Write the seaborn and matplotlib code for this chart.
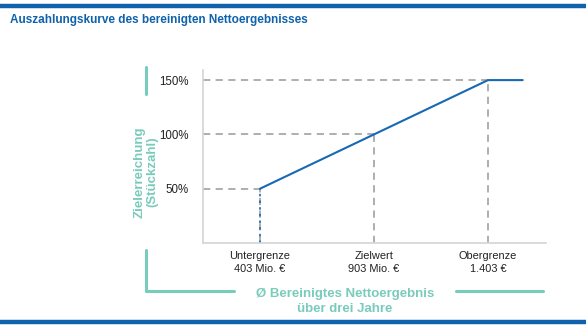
import matplotlib
matplotlib.use("Agg")
import matplotlib.pyplot as plt
from matplotlib.lines import Line2D
import seaborn as sns
import pandas as pd

sns.set_style("white")
plt.rcParams["font.family"] = ["Liberation Sans", "DejaVu Sans"]

# Payout curve: net result (Mio. €) vs. target achievement (%)
thresholds = [403, 903, 1403]
achievement = [50, 100, 150]
cap_end = 1555
tick_labels = ["Untergrenze\n403 Mio. €", "Zielwert\n903 Mio. €", "Obergrenze\n1.403 €"]
y_ticks = [50, 100, 150]
y_tick_labels = ["50%", "100%", "150%"]

BLUE = "#0f62ab"
LINE_BLUE = "#1769b3"
TEAL = "#79cbbc"
GREY = "#a8a8a8"
SPINE = "#d4d4d4"

curve = pd.DataFrame({
    "ergebnis": thresholds + [cap_end],
    "zielerreichung": achievement + [achievement[-1]],
})

fig = plt.figure(figsize=(5.86, 3.28), dpi=100)
ax = fig.add_axes([0.3464, 0.2591, 0.5853, 0.5275])
x_min, x_max = 153, 1657
y_min, y_max = 0, 159.3
ax.set_xlim(x_min, x_max)
ax.set_ylim(y_min, y_max)

# dashed guide lines to each threshold point
ax.hlines(achievement, x_min, thresholds, colors=GREY, linestyles=(0, (4, 3)), lw=1.3, zorder=1)
ax.vlines(thresholds, y_min, achievement, colors=GREY, linestyles=(0, (4, 3)), lw=1.3, zorder=1)

# dotted jump at the lower threshold
ax.vlines([thresholds[0]], y_min, [achievement[0]], colors=LINE_BLUE, linestyles=(0, (1.5, 2.5)), lw=1.2, zorder=2)

sns.lineplot(data=curve, x="ergebnis", y="zielerreichung", ax=ax, color=LINE_BLUE, lw=1.5, zorder=3)

ax.set_xticks(thresholds)
ax.set_xticklabels(tick_labels, fontsize=7.9, color="#222222", linespacing=1.35)
ax.set_yticks(y_ticks)
ax.set_yticklabels(y_tick_labels, fontsize=8.3, color="#222222")
ax.tick_params(axis="both", length=0, pad=6)
ax.tick_params(axis="y", pad=10)
ax.set_xlabel("")
ax.set_ylabel("")
for side in ["top", "right"]:
    ax.spines[side].set_visible(False)
for side in ["left", "bottom"]:
    ax.spines[side].set_color(SPINE)
    ax.spines[side].set_linewidth(1.2)

W, H = 586, 328

def fx(px):
    return px / W

def fy(py):
    return 1 - py / H

# header and footer bars
fig.add_artist(Line2D([0, 1], [fy(5.5), fy(5.5)], color=BLUE, lw=3.2))
fig.add_artist(Line2D([0, 1], [fy(322), fy(322)], color=BLUE, lw=3.2))
fig.text(fx(10), fy(20), "Auszahlungskurve des bereinigten Nettoergebnisses",
         color=BLUE, fontsize=8.5, fontweight="bold", va="center", ha="left")

# axis label brackets
fig.add_artist(Line2D([fx(146), fx(146)], [fy(67), fy(94)], color=TEAL, lw=2.2))
fig.add_artist(Line2D([fx(146), fx(146), fx(234)], [fy(250), fy(291), fy(291)], color=TEAL, lw=2.2))
fig.add_artist(Line2D([fx(456), fx(543)], [fy(291), fy(291)], color=TEAL, lw=2.2))

fig.text(fx(146), fy(172), "Zielerreichung\n(Stückzahl)", rotation=90, color=TEAL,
         fontsize=9.5, fontweight="bold", ha="center", va="center", linespacing=1.0)
fig.text(fx(345), fy(301.5), "Ø Bereinigtes Nettoergebnis\nüber drei Jahre", color=TEAL,
         fontsize=9.5, fontweight="bold", ha="center", va="center", linespacing=1.3)

fig.savefig("out.png", dpi=100)
